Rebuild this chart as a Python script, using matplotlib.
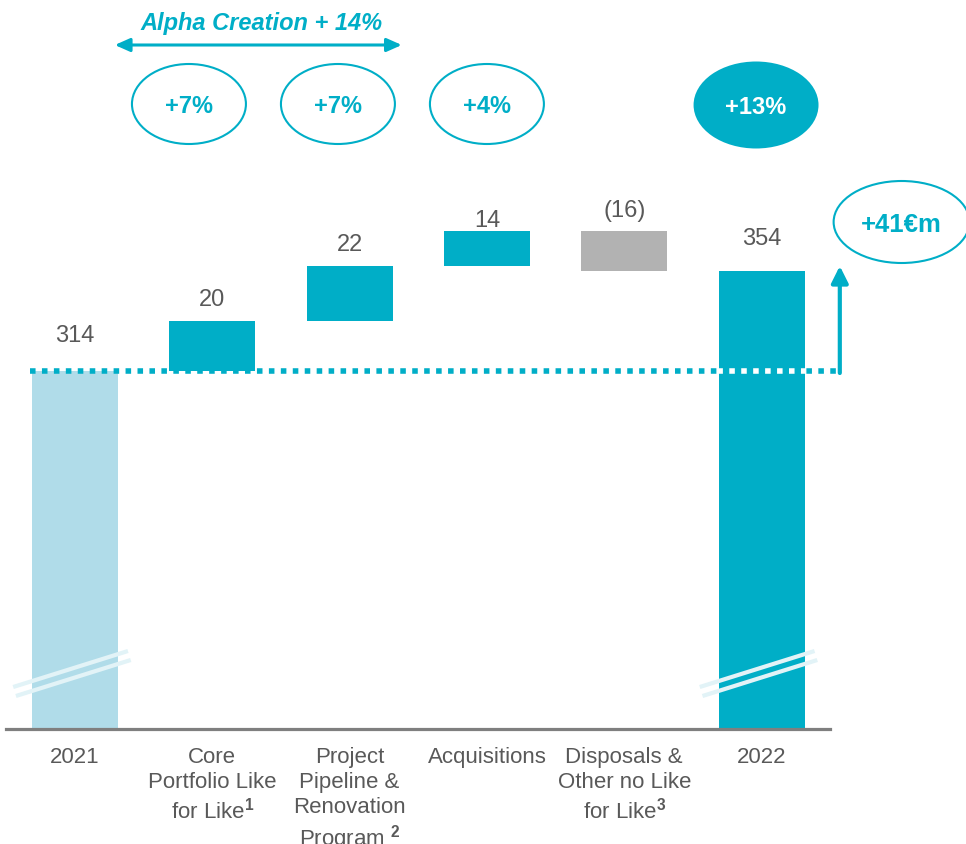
import matplotlib.pyplot as plt
from matplotlib.patches import Ellipse

plt.rcParams['font.family'] = ['Liberation Sans', 'DejaVu Sans']
plt.rcParams['mathtext.fontset'] = 'custom'
plt.rcParams['mathtext.rm'] = 'Liberation Sans'
plt.rcParams['mathtext.bf'] = 'Liberation Sans:bold'

# 数据
categories = ['2021', 'Core\nPortfolio Like\nfor Like$^{\\mathbf{1}}$',
              'Project\nPipeline &\nRenovation\nProgram $^{\\mathbf{2}}$',
              'Acquisitions', 'Disposals &\nOther no Like\nfor Like$^{\\mathbf{3}}$', '2022']
start_value = 314
deltas = [20, 22, 14, -16]
end_value = 354
value_labels = ['314', '20', '22', '14', '(16)', '354']
growth_labels = ['+7%', '+7%', '+4%', '+13%']
growth_pos = [0.83, 1.915, 3.0, 4.96]
alpha_label = 'Alpha Creation + 14%'
total_label = '+41€m'

CYAN = '#00AEC7'
LIGHT = '#B0DCE9'
GREY = '#B2B2B2'
TXT = '#595959'

floor = 170.8  # 断轴后的底部

fig = plt.figure(figsize=(9.66, 8.45), dpi=100)
ax = fig.add_axes([0, 0, 1, 1])
ax.set_xlim(-0.546, 6.489)
ax.set_ylim(124.8, 462.8)
ax.axis('off')

# 瀑布柱
w = 0.626
ax.bar(0, start_value - floor, bottom=floor, width=w, color=LIGHT, zorder=2)
level = start_value
for i, d in enumerate(deltas, start=1):
    bottom = level if d > 0 else level + d
    ax.bar(i, abs(d), bottom=bottom, width=w, color=CYAN if d > 0 else GREY, zorder=2)
    level += d
ax.bar(5, end_value - floor, bottom=floor, width=w, color=CYAN, zorder=2)

# 柱顶数值
tops = [start_value]
level = start_value
for d in deltas:
    level += d
    tops.append(max(level, level - d))
tops.append(end_value)
label_off = [26, 16, 16, 8, 15, 24]
for i, (t, lab) in enumerate(zip(tops, value_labels)):
    ax.annotate(lab, (i, t), xytext=(0, label_off[i]), textcoords='offset points',
                ha='center', va='center', fontsize=17, color=TXT)

# 断轴标记
for x0 in [0, 5]:
    for dx, y0 in [(0, 0), (0.02, -3.6)]:
        ax.plot([x0 - 0.45 + dx, x0 + 0.386 + dx], [187.6 + y0, 202.0 + y0],
                color='#e2f3f7', lw=3, solid_capstyle='butt', zorder=3)

# 基线
ax.plot([-0.50, 5.50], [floor, floor], color='#7f7f7f', lw=2.3, zorder=4)

# 2021水平虚线（压在2022柱上的部分用白色）
dots = (0, (1, 1.15))
ax.plot([-0.33, 5.57], [start_value, start_value], color=CYAN, lw=4,
        linestyle=dots, dash_capstyle='butt', zorder=4)
ax.plot([5 - w / 2, 5 + w / 2], [start_value, start_value], color='white', lw=4,
        linestyle=(0.3, (1, 1.15)), dash_capstyle='butt', zorder=5)

# 增量箭头
ax.annotate('', xy=(5.57, 356), xytext=(5.57, start_value - 0.8),
            arrowprops=dict(arrowstyle='-|>,head_width=0.5,head_length=1.0',
                            color=CYAN, lw=3, shrinkA=0, shrinkB=0), zorder=4)

# 类别标签
for i, c in enumerate(categories):
    ax.annotate(c, (i, floor), xytext=(0, -12), textcoords='offset points',
                ha='center', va='top', fontsize=16, color=TXT, linespacing=1.25,
                annotation_clip=False)

# 顶部增长率椭圆
for i, (x, g) in enumerate(zip(growth_pos, growth_labels)):
    if i < 3:
        ax.add_patch(Ellipse((x, 420.8), 0.83, 32, facecolor='none', edgecolor=CYAN, lw=1.5))
        ax.text(x, 420.4, g, ha='center', va='center', fontsize=17, fontweight='bold', color=CYAN)
    else:
        ax.add_patch(Ellipse((x, 420.4), 0.91, 34.8, facecolor=CYAN, edgecolor='none'))
        ax.text(x, 420.0, g, ha='center', va='center', fontsize=17, fontweight='bold', color='white')

# Alpha Creation 双向箭头
ax.annotate('', xy=(0.29, 444.4), xytext=(2.38, 444.4),
            arrowprops=dict(arrowstyle='<|-|>,head_width=0.4,head_length=0.9',
                            color=CYAN, lw=2.2, shrinkA=0, shrinkB=0))
ax.text(1.36, 453.6, alpha_label, ha='center', va='center', fontsize=17,
        fontweight='bold', fontstyle='italic', color=CYAN)

# 总增量椭圆
ax.add_patch(Ellipse((6.02, 373.6), 0.99, 32.8, facecolor='white', edgecolor=CYAN, lw=1.5))
ax.text(6.02, 372.6, total_label, ha='center', va='center', fontsize=18.5,
        fontweight='bold', color=CYAN)

fig.savefig('out.png', dpi=100)
